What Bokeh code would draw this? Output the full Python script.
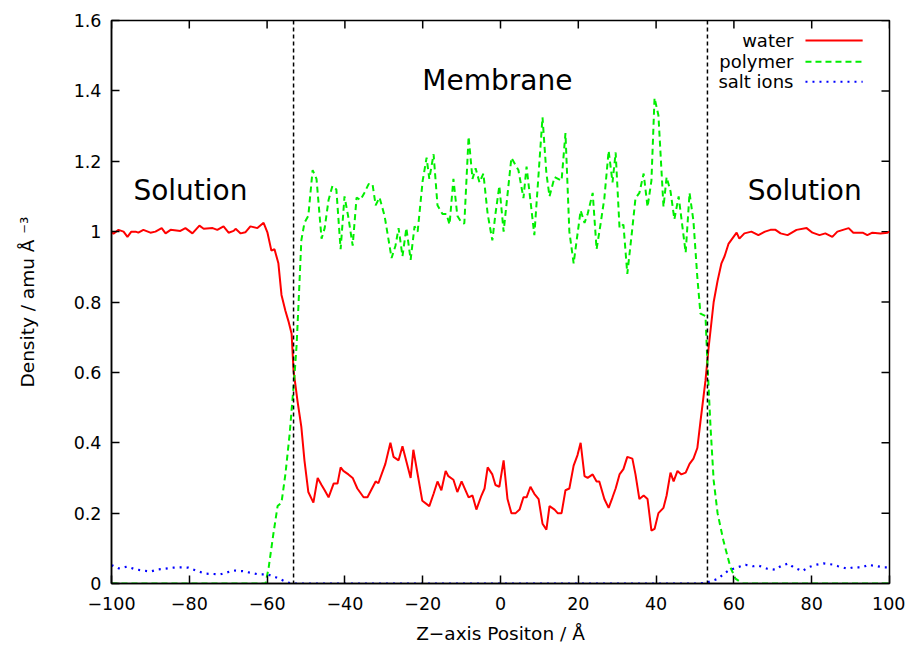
from bokeh.plotting import figure
from bokeh.models import Range1d, FixedTicker, Span
from bokeh.core.properties import value
from bokeh.embed import file_html
from bokeh.resources import INLINE

# ---------------- data ----------------
water_x = [-100, -99.5, -98.2, -96.9, -95.9, -94.9, -93.8, -93.1, -91.8, -90.0,
           -88.7, -87.1, -86.1, -84.8, -82.3, -81.0, -79.2, -77.4, -76.3, -74.0,
           -72.8, -71.2, -69.9, -68.6, -68.1, -66.8, -65.6, -64.3, -62.5, -60.9,
           -59.9, -58.9, -58.1, -57.1, -56.3, -55.3, -54.5, -53.7, -53.2, -52.2,
           -51.2, -50.4, -49.4, -48.1, -47.0, -46.0, -45.2, -44.2, -42.9, -41.9,
           -41.1, -40.4, -39.1, -38.0, -36.8, -35.2, -34.2, -32.1, -31.4, -29.6,
           -28.3, -27.5, -26.2, -25.2, -23.1, -22.4, -20.1, -18.3, -17.2, -16.2,
           -15.2, -14.1, -13.4, -12.1, -11.1, -10.0, -8.2, -7.2, -6.2, -4.9,
           -4.1, -3.3, -2.1, -1.3, -0.3, 0.8, 1.8, 2.8, 3.9, 4.9,
           5.9, 6.7, 7.7, 8.7, 9.8, 10.8, 11.8, 12.6, 13.9, 14.7,
           15.7, 16.7, 17.7, 18.8, 19.8, 20.6, 21.6, 22.4, 23.7, 24.7,
           25.4, 26.7, 27.8, 28.8, 29.6, 30.6, 31.6, 32.6, 33.9, 34.7,
           35.7, 36.8, 37.8, 38.8, 39.6, 40.6, 41.9, 42.7, 43.7, 44.5,
           45.5, 46.5, 47.6, 48.6, 49.6, 50.6, 51.4, 52.7, 53.5, 54.8,
           55.8, 56.8, 57.6, 58.6, 60.7, 61.4, 62.7, 64.5, 66.3, 68.0,
           69.4, 70.7, 72.0, 73.8, 76.1, 78.7, 80.2, 82.0, 83.5, 85.3,
           86.6, 89.5, 90.7, 93.1, 94.3, 95.6, 97.7, 99.5, 100]
water_y = [1.0, 0.994, 1.005, 1.0, 0.985, 1.0, 1.0, 0.997, 1.005, 0.997,
           1.0, 1.01, 0.995, 1.005, 1.002, 1.01, 0.995, 1.017, 1.008, 1.01,
           1.005, 1.015, 0.997, 1.002, 1.008, 0.995, 0.998, 1.015, 1.01, 1.025,
           0.997, 0.946, 0.95, 0.91, 0.82, 0.775, 0.745, 0.71, 0.605, 0.52,
           0.445, 0.35, 0.26, 0.23, 0.30, 0.28, 0.265, 0.245, 0.284, 0.284,
           0.33, 0.32, 0.31, 0.30, 0.27, 0.245, 0.245, 0.29, 0.285, 0.34,
           0.40, 0.36, 0.35, 0.39, 0.30, 0.38, 0.235, 0.22, 0.255, 0.29,
           0.265, 0.32, 0.305, 0.295, 0.26, 0.29, 0.245, 0.25, 0.21, 0.25,
           0.27, 0.33, 0.31, 0.28, 0.275, 0.35, 0.24, 0.20, 0.20, 0.21,
           0.245, 0.245, 0.275, 0.255, 0.24, 0.17, 0.153, 0.22, 0.21, 0.20,
           0.20, 0.265, 0.27, 0.335, 0.365, 0.40, 0.305, 0.30, 0.31, 0.29,
           0.29, 0.24, 0.215, 0.245, 0.27, 0.31, 0.325, 0.36, 0.355, 0.31,
           0.24, 0.25, 0.24, 0.15, 0.155, 0.20, 0.215, 0.25, 0.315, 0.29,
           0.32, 0.31, 0.315, 0.34, 0.355, 0.385, 0.46, 0.577, 0.67, 0.80,
           0.86, 0.91, 0.93, 0.965, 0.997, 0.98, 0.995, 1.0, 0.99, 1.0,
           1.005, 1.005, 0.995, 0.99, 1.005, 1.01, 0.997, 0.99, 0.995, 0.985,
           1.0, 1.01, 0.997, 0.997, 0.99, 0.997, 0.995, 0.997, 1.0]

polymer_x = [-100, -60.4, -59.6, -58.4, -57.3, -56.3, -55.3, -54.2, -53.5, -53.0,
             -52.4, -51.9, -51.2, -50.4, -49.4, -48.3, -47.3, -46.0, -45.2, -44.2,
             -43.2, -42.2, -41.1, -40.1, -39.1, -38.0, -37.0, -36.0, -35.0, -33.9,
             -32.9, -32.1, -31.1, -29.8, -28.0, -27.0, -26.2, -25.2, -24.2, -23.1,
             -22.1, -21.3, -20.0, -19.0, -18.3, -17.2, -16.2, -14.9, -13.9, -13.1,
             -12.1, -11.1, -10.0, -9.3, -8.2, -7.2, -6.4, -5.4, -4.4, -3.3,
             -2.1, -1.3, -0.3, 0.8, 2.8, 4.6, 5.9, 6.7, 8.7, 10.8,
             11.8, 12.6, 13.9, 15.7, 16.7, 17.7, 18.8, 20.6, 21.6, 22.4,
             23.7, 24.7, 25.7, 26.7, 27.8, 28.8, 29.6, 30.6, 31.6, 32.6,
             33.9, 34.7, 35.7, 36.8, 37.8, 38.8, 39.6, 40.6, 41.9, 42.7,
             43.7, 44.7, 45.8, 47.6, 48.6, 49.6, 50.6, 51.4, 52.7, 53.2,
             54.0, 54.8, 55.8, 57.3, 59.1, 60.4, 62.2, 100]
polymer_y = [0, 0, 0.045, 0.14, 0.22, 0.23, 0.31, 0.425, 0.52, 0.585,
             0.68, 0.80, 0.975, 1.025, 1.045, 1.175, 1.15, 0.98, 1.01, 1.09,
             1.13, 1.12, 0.95, 1.10, 1.04, 0.96, 1.097, 1.09, 1.11, 1.135,
             1.135, 1.075, 1.097, 1.045, 0.925, 0.96, 1.01, 0.93, 1.01, 0.92,
             1.015, 1.0, 1.145, 1.21, 1.15, 1.22, 1.075, 1.05, 1.05, 1.02,
             1.15, 1.045, 1.025, 1.023, 1.27, 1.15, 1.18, 1.14, 1.165, 1.05,
             0.975, 1.05, 1.13, 1.0, 1.21, 1.175, 1.095, 1.185, 0.99, 1.325,
             1.165, 1.10, 1.155, 1.145, 1.28, 1.0, 0.91, 1.06, 1.025, 1.05,
             1.11, 0.95, 1.02, 1.095, 1.23, 1.14, 1.225, 1.01, 1.02, 0.88,
             1.01, 1.095, 1.11, 1.165, 1.07, 1.145, 1.38, 1.33, 1.07, 1.155,
             1.115, 1.035, 1.10, 0.94, 1.11, 1.03, 0.87, 0.767, 0.76, 0.625,
             0.443, 0.293, 0.2, 0.122, 0.046, 0.014, 0, 0]

salt_x = [-100, -99.7, -98.2, -95.9, -93.8, -90.0, -87.9, -84.1, -81.7, -80.2,
          -77.9, -75.8, -72.0, -68.6, -66.3, -62.2, -59.9, -57.8, -54.8, -53.5,
          51.4, 53.2, 55.8, 58.6, 60.9, 63.0, 64.8, 66.3, 68.6, 70.7,
          72.0, 74.0, 75.3, 77.6, 79.1, 81.0, 83.0, 85.3, 86.8, 89.2,
          90.7, 93.1, 94.6, 96.9, 98.5, 100]
salt_y = [0.05, 0.051, 0.043, 0.048, 0.04, 0.034, 0.04, 0.045, 0.046, 0.045,
          0.035, 0.028, 0.026, 0.037, 0.035, 0.026, 0.026, 0.018, 0.003, 0.0,
          0.0, 0.003, 0.013, 0.037, 0.046, 0.053, 0.049, 0.051, 0.042, 0.039,
          0.049, 0.057, 0.046, 0.035, 0.046, 0.053, 0.057, 0.054, 0.049, 0.042,
          0.046, 0.046, 0.053, 0.049, 0.046, 0.046]

boundaries = [-53.2, 53.2]
region_labels = ["Solution", "Membrane", "Solution"]
region_x = [-79.7, -0.8, 78.2]
region_y = [1.117, 1.43, 1.117]

series_names = ["water", "polymer", "salt ions"]
series_colors = ["#ff0000", "#00ee00", "#0000ff"]
series_dashes = ["solid", "6 4", "2 5"]

x_ticks = [-100, -80, -60, -40, -20, 0, 20, 40, 60, 80, 100]
y_ticks = [0, 0.2, 0.4, 0.6, 0.8, 1.0, 1.2, 1.4, 1.6]
y_tick_labels = ["0", "0.2", "0.4", "0.6", "0.8", "1", "1.2", "1.4", "1.6"]

FONT = "DejaVu Sans"
X0, X1, Y0, Y1 = -100, 100, 0, 1.6

# ---------------- figure ----------------
p = figure(width=905, height=647, output_backend="svg", toolbar_location=None,
           x_range=Range1d(X0, X1), y_range=Range1d(Y0, Y1),
           min_border_left=111, min_border_right=16, min_border_top=20,
           min_border_bottom=64)
p.background_fill_color = "white"
p.border_fill_color = "white"
p.xgrid.visible = False
p.ygrid.visible = False
p.outline_line_color = "black"
p.outline_line_width = 1.5

xax = p.xaxis[0]
yax = p.yaxis[0]
xax.ticker = FixedTicker(ticks=x_ticks)
yax.ticker = FixedTicker(ticks=y_ticks)
xax.major_label_overrides = {t: (str(t).replace("-", "\u2212")) for t in x_ticks}
yax.major_label_overrides = {t: l for t, l in zip(y_ticks, y_tick_labels)}
for ax in (xax, yax):
    ax.axis_line_color = "black"
    ax.axis_line_width = 1.5
    ax.major_tick_line_color = "black"
    ax.major_tick_line_width = 1.5
    ax.major_tick_in = 8
    ax.major_tick_out = 0
    ax.minor_tick_line_color = None
    ax.major_label_text_font = FONT
    ax.major_label_text_font_size = "17.5px"
    ax.major_label_text_color = "black"
    ax.axis_label_text_font = FONT
    ax.axis_label_text_font_size = "18.5px"
    ax.axis_label_text_font_style = "normal"
    ax.axis_label_text_color = "black"
xax.major_label_standoff = 13
yax.major_label_standoff = 10
xax.axis_label = "Z\u2212axis Positon / \u00c5"
yax.axis_label = "Density / amu \u00c5 \u207b\u00b3"
xax.axis_label_standoff = 10
yax.axis_label_standoff = 33

# mirrored ticks on the top and right frame edges (gnuplot "mirror")
tick_dy = 8 / 352.0 * (Y1 - Y0) / 1.6
tick_dx = 8 / 3.89 * (X1 - X0) / 200.0
p.segment(x0=x_ticks, y0=[Y1] * len(x_ticks), x1=x_ticks,
          y1=[Y1 - tick_dy] * len(x_ticks), line_color="black", line_width=1.5)
p.segment(x0=[X1] * len(y_ticks), y0=y_ticks, x1=[X1 - tick_dx] * len(y_ticks),
          y1=y_ticks, line_color="black", line_width=1.5)

# ---------------- data lines ----------------
p.line(water_x, water_y, line_color=series_colors[0], line_width=2,
       line_dash=series_dashes[0])
p.line(polymer_x, polymer_y, line_color=series_colors[1], line_width=2,
       line_dash=series_dashes[1])
p.line(salt_x, salt_y, line_color=series_colors[2], line_width=2.2,
       line_dash=series_dashes[2])

for b in boundaries:
    p.add_layout(Span(location=b, dimension="height", line_color="black",
                      line_width=1.5, line_dash="4 3"))

p.text(x=region_x, y=region_y, text=region_labels,
       text_font=value(FONT), text_font_size="28px", text_color="black",
       text_align="center", text_baseline="middle")

# ---------------- legend (gnuplot style: label left of key) ----------------
leg_y = [1.543, 1.483, 1.426]
p.text(x=[75.3] * 3, y=leg_y, text=series_names, text_font=value(FONT),
       text_font_size="18px", text_color="black", text_align="right",
       text_baseline="middle")
for i in range(3):
    p.segment(x0=[78.4], y0=[leg_y[i]], x1=[93.1], y1=[leg_y[i]],
              line_color=series_colors[i], line_width=2,
              line_dash=series_dashes[i])

open("out.html", "w").write(file_html(p, INLINE))
